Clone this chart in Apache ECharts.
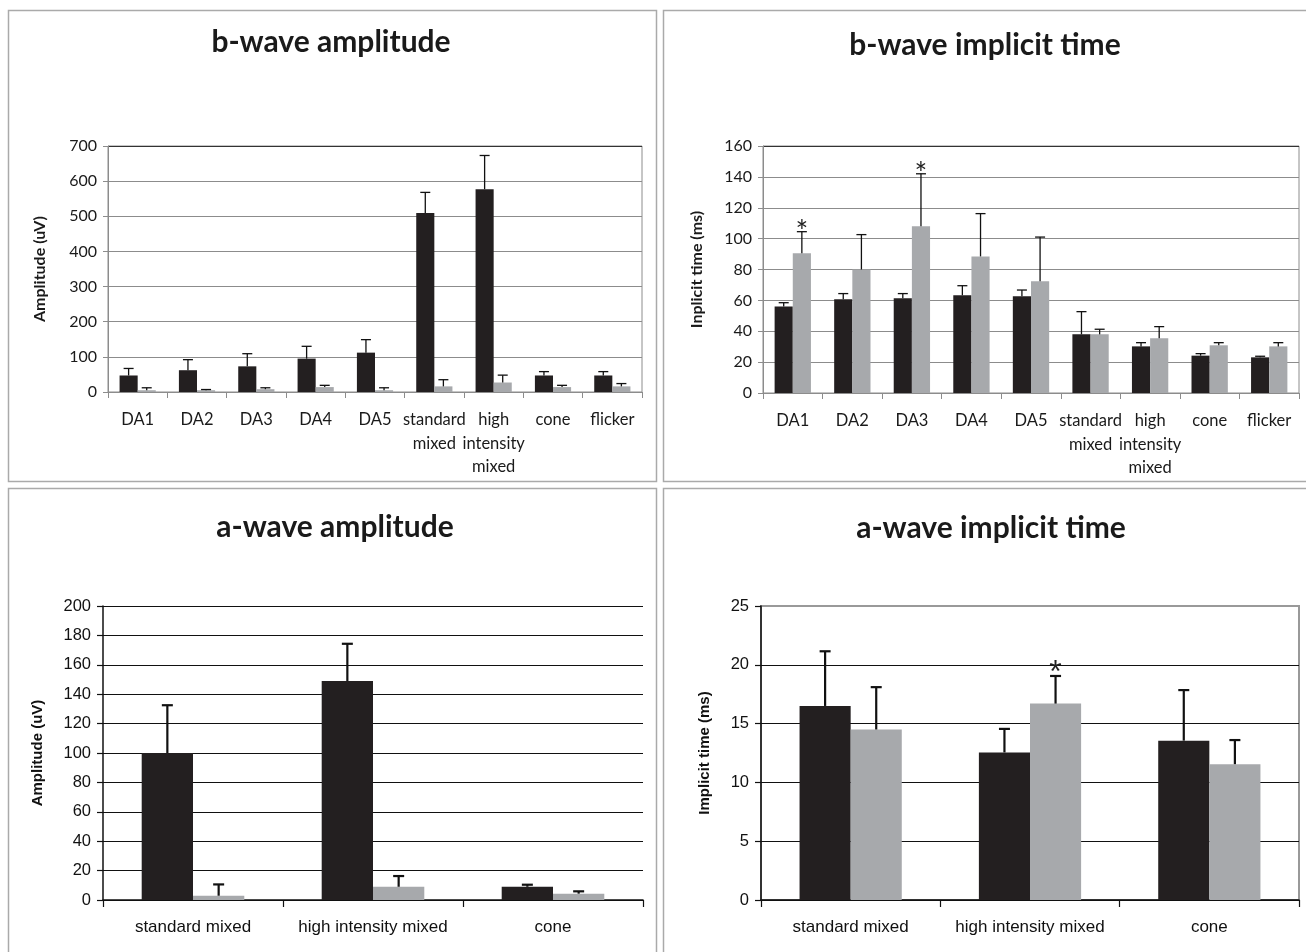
<!DOCTYPE html>
<html>
<head>
<meta charset="utf-8">
<script src="https://cdn.jsdelivr.net/npm/echarts@6/dist/echarts.min.js"></script>
<style>
  html, body { margin: 0; padding: 0; background: #fff; }
  #chart { width: 1306px; height: 952px; }
</style>
</head>
<body>
<div id="chart"></div>
<script>
// b-wave panels (9 steps)
const bCategories = ['DA1', 'DA2', 'DA3', 'DA4', 'DA5', 'standard\nmixed', 'high\nintensity\nmixed', 'cone', 'flicker']
const bAmpControl = [47, 62, 73, 95, 112, 509, 577, 47, 47]
const bAmpControlSd = [20, 30, 36, 35, 37, 59, 96, 11, 11]
const bAmpTest = [5, 5, 8, 14, 5, 16, 27, 14, 16]
const bAmpTestSd = [7, 2, 4, 5, 7, 19, 21, 5, 8]
const bAmpTicks = [0, 700, 100]

const bTimeControl = [56, 60.7, 61.3, 63.3, 62.6, 38, 30.2, 24.2, 23.1]
const bTimeControlSd = [2.5, 3.7, 3.1, 6.2, 4.1, 14.7, 2.4, 1.3, 0.7]
const bTimeTest = [90.5, 80, 108, 88.5, 72.4, 38, 35.4, 30.9, 30.2]
const bTimeTestSd = [14, 22.6, 34, 27.7, 28.6, 3.3, 7.6, 1.7, 2.4]
const bTimeStars = [1, 0, 1, 0, 0, 0, 0, 0, 0]
const bTimeTicks = [0, 160, 20]

// a-wave panels (3 steps)
const aCategories = ['standard mixed', 'high intensity mixed', 'cone']
const aAmpControl = [100, 149, 9]
const aAmpControlSd = [32.5, 25.3, 1.4]
const aAmpTest = [2.9, 9, 4.3]
const aAmpTestSd = [7.7, 7.3, 1.6]
const aAmpTicks = [0, 200, 20]

const aTimeControl = [16.5, 12.55, 13.55]
const aTimeControlSd = [4.65, 2.0, 4.3]
const aTimeTest = [14.5, 16.7, 11.55]
const aTimeTestSd = [3.6, 2.35, 2.05]
const aTimeStars = [0, 1, 0]
const aTimeTicks = [0, 25, 5]

const BLACK = '#231f20'
const GREY = '#a7a9ac'
const CAL = 'Lato, "Open Sans", sans-serif'
const ARIAL = '"Liberation Sans", Arial, sans-serif'

const chart = echarts.init(document.getElementById('chart'))

// error bar drawn from bar top up by sd, side -1 = left bar, +1 = right bar
function errorSeries(idx, means, sds, side, gap, cap, lw) {
  return {
    type: 'custom',
    xAxisIndex: idx,
    yAxisIndex: idx,
    z: 5,
    silent: true,
    data: means.map((m, i) => [i, m, sds[i]]),
    encode: { x: 0, y: 1 },
    renderItem: (params, api) => {
      const ci = api.value(0), m = api.value(1), s = api.value(2)
      const band = api.size([1, 0])[0]
      const bw = band * (1 - gap) / 2
      const p0 = api.coord([ci, m])
      const p1 = api.coord([ci, m + s])
      const x = p0[0] + side * bw / 2
      const st = { stroke: '#111', lineWidth: lw }
      return {
        type: 'group',
        children: [
          { type: 'line', shape: { x1: x, y1: p0[1], x2: x, y2: p1[1] }, style: st },
          { type: 'line', shape: { x1: x - cap / 2, y1: p1[1], x2: x + cap / 2, y2: p1[1] }, style: st },
        ],
      }
    },
  }
}

function starSeries(idx, means, sds, flags, gap, font, size, dy) {
  const data = []
  flags.forEach((f, i) => { if (f) data.push([i, means[i] + sds[i]]) })
  return {
    type: 'custom',
    xAxisIndex: idx,
    yAxisIndex: idx,
    z: 6,
    silent: true,
    data: data,
    encode: { x: 0, y: 1 },
    renderItem: (params, api) => {
      const band = api.size([1, 0])[0]
      const bw = band * (1 - gap) / 2
      const p = api.coord([api.value(0), api.value(1)])
      return {
        type: 'text',
        x: p[0] + bw / 2,
        y: p[1] + dy,
        style: { text: '*', fontSize: size, fontFamily: font, fill: '#222', align: 'center', verticalAlign: 'middle' },
      }
    },
  }
}

function barPair(idx, ctrl, test, gap) {
  return [
    { type: 'bar', xAxisIndex: idx, yAxisIndex: idx, data: ctrl, barGap: '0%', barCategoryGap: gap * 100 + '%', itemStyle: { color: BLACK } },
    { type: 'bar', xAxisIndex: idx, yAxisIndex: idx, data: test, barGap: '0%', barCategoryGap: gap * 100 + '%', itemStyle: { color: GREY } },
  ]
}

function xAxisTop(idx, cats) {
  return {
    type: 'category', gridIndex: idx, data: cats,
    axisLine: { lineStyle: { color: '#8c8c8c', width: 1 } },
    axisTick: { show: true, length: 6, lineStyle: { color: '#8c8c8c' } },
    axisLabel: { interval: 0, color: '#1a1a1a', fontFamily: CAL, fontSize: 16.5, lineHeight: 23.5, margin: 16 },
  }
}

function yAxisTop(idx, ticks, name, gap) {
  const n = (ticks[1] - ticks[0]) / ticks[2]
  const colors = []
  for (let i = 0; i <= n; i++) colors.push(i === n ? '#333' : '#8c8c8c')
  return {
    type: 'value', gridIndex: idx, min: ticks[0], max: ticks[1], interval: ticks[2],
    name: name, nameLocation: 'middle', nameGap: gap,
    nameTextStyle: { fontFamily: CAL, fontWeight: 'bold', fontSize: 16, color: '#1a1a1a' },
    axisLine: { show: true, lineStyle: { color: '#8c8c8c' } },
    axisTick: { show: true, length: 5, lineStyle: { color: '#8c8c8c' } },
    axisLabel: { color: '#1a1a1a', fontFamily: CAL, fontSize: 16, margin: 11 },
    splitLine: { show: true, lineStyle: { color: colors, width: 1 } },
  }
}

function xAxisBottom(idx, cats) {
  return {
    type: 'category', gridIndex: idx, data: cats,
    axisLine: { lineStyle: { color: '#111', width: 1.5 } },
    axisTick: { show: true, length: 7, lineStyle: { color: '#111', width: 1.2 } },
    axisLabel: { interval: 0, color: '#111', fontFamily: ARIAL, fontSize: 17, margin: 19 },
  }
}

function yAxisBottom(idx, ticks, name, gap, topColor) {
  const n = (ticks[1] - ticks[0]) / ticks[2]
  const colors = []
  for (let i = 0; i <= n; i++) colors.push(i === n ? topColor : '#111')
  return {
    type: 'value', gridIndex: idx, min: ticks[0], max: ticks[1], interval: ticks[2],
    name: name, nameLocation: 'middle', nameGap: gap,
    nameTextStyle: { fontFamily: ARIAL, fontWeight: 'bold', fontSize: 15, color: '#111' },
    axisLine: { show: true, lineStyle: { color: '#111', width: 1.5 } },
    axisTick: { show: true, length: 6, lineStyle: { color: '#111', width: 1.2 } },
    axisLabel: { color: '#111', fontFamily: ARIAL, fontSize: 16.5, margin: 12 },
    splitLine: { show: true, lineStyle: { color: colors, width: 1.2 } },
  }
}

function frame(x, y, w, h) {
  return { type: 'rect', shape: { x: x, y: y, width: w, height: h }, style: { fill: 'none', stroke: '#aaaaaa', lineWidth: 1.5 }, z: -1 }
}

function heading(text, x, y) {
  return { type: 'text', x: x, y: y, style: { text: text, fontFamily: CAL, fontWeight: 'bold', fontSize: 30, fill: '#1a1a1a', align: 'center', verticalAlign: 'middle' } }
}

const gapTop = 0.39
const gapBottom = 0.43

chart.setOption({
  animation: false,
  backgroundColor: '#fff',
  graphic: [
    frame(8.5, 10.5, 648, 471),
    frame(663.5, 10.5, 660, 471),
    frame(8.5, 488.5, 648, 480),
    frame(663.5, 488.5, 660, 480),
    heading('b-wave amplitude', 331, 42),
    heading('b-wave implicit time', 985, 45),
    heading('a-wave amplitude', 335, 527),
    heading('a-wave implicit time', 991, 528),
  ],
  grid: [
    { left: 108, top: 146, width: 534, height: 246, show: true, borderColor: '#8c8c8c', borderWidth: 1 },
    { left: 763, top: 146, width: 536, height: 247, show: true, borderColor: '#8c8c8c', borderWidth: 1 },
    { left: 103, top: 606, width: 540, height: 294 },
    { left: 761, top: 606, width: 538, height: 294, show: true, borderColor: '#999', borderWidth: 2 },
  ],
  xAxis: [
    xAxisTop(0, bCategories),
    xAxisTop(1, bCategories),
    xAxisBottom(2, aCategories),
    xAxisBottom(3, aCategories),
  ],
  yAxis: [
    yAxisTop(0, bAmpTicks, 'Amplitude (uV)', 60),
    yAxisTop(1, bTimeTicks, 'Inplicit time (ms)', 58),
    yAxisBottom(2, aAmpTicks, 'Amplitude (uV)', 58, '#111'),
    yAxisBottom(3, aTimeTicks, 'Implicit time (ms)', 49, '#999'),
  ],
  series: [
    ...barPair(0, bAmpControl, bAmpTest, gapTop),
    errorSeries(0, bAmpControl, bAmpControlSd, -1, gapTop, 10, 1.3),
    errorSeries(0, bAmpTest, bAmpTestSd, 1, gapTop, 10, 1.3),

    ...barPair(1, bTimeControl, bTimeTest, gapTop),
    errorSeries(1, bTimeControl, bTimeControlSd, -1, gapTop, 10, 1.3),
    errorSeries(1, bTimeTest, bTimeTestSd, 1, gapTop, 10, 1.3),
    starSeries(1, bTimeTest, bTimeTestSd, bTimeStars, gapTop, CAL, 30, 1),

    ...barPair(2, aAmpControl, aAmpTest, gapBottom),
    errorSeries(2, aAmpControl, aAmpControlSd, -1, gapBottom, 11, 2.2),
    errorSeries(2, aAmpTest, aAmpTestSd, 1, gapBottom, 11, 2.2),

    ...barPair(3, aTimeControl, aTimeTest, gapBottom),
    errorSeries(3, aTimeControl, aTimeControlSd, -1, gapBottom, 11, 2.2),
    errorSeries(3, aTimeTest, aTimeTestSd, 1, gapBottom, 11, 2.2),
    starSeries(3, aTimeTest, aTimeTestSd, aTimeStars, gapBottom, ARIAL, 32, -3),
  ],
})
</script>
</body>
</html>
